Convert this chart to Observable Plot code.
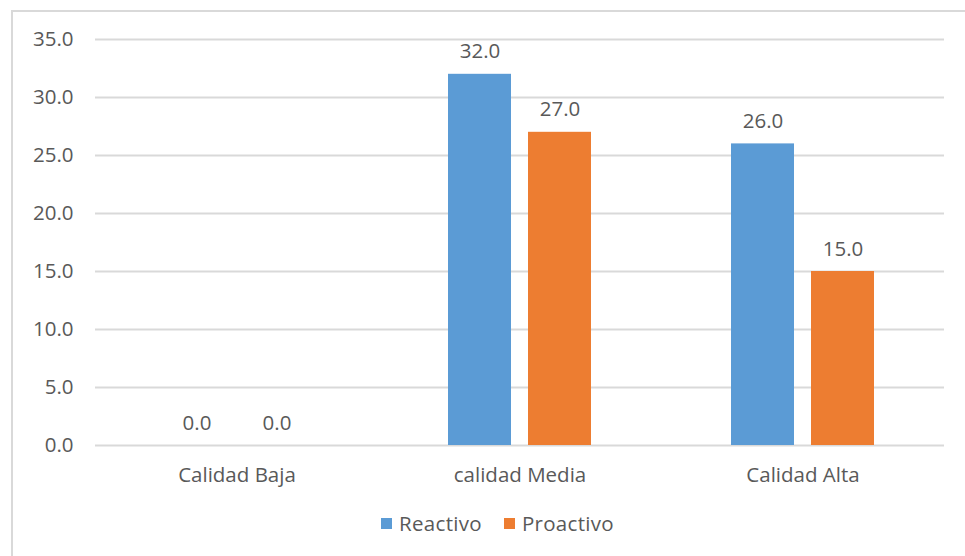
<!DOCTYPE html>
<html>
<head>
<meta charset="utf-8">
<script src="https://cdn.jsdelivr.net/npm/d3@7"></script>
<script src="https://cdn.jsdelivr.net/npm/@observablehq/plot@0.6"></script>
<style>
  html, body { margin: 0; padding: 0; background: #ffffff; }
  body { width: 965px; height: 556px; position: relative; overflow: hidden; font-family: "Open Sans", sans-serif; }
  #frame { position: absolute; left: 11px; top: 10px; width: 1000px; height: 600px; border-left: 2px solid #d9d9d9; border-top: 2px solid #d9d9d9; pointer-events: none; }
  #legend { display: flex; justify-content: center; align-items: center; padding-left: 30px; margin-top: 11px; font-size: 20.5px; color: #595959; line-height: 24px; letter-spacing: 0.3px; }
  .item { display: inline-flex; align-items: center; margin: 0 11px; }
  .sw { width: 11px; height: 11px; margin-right: 7px; display: inline-block; }
</style>
</head>
<body>
<div id="chart"></div>
<div id="legend"></div>
<div id="frame"></div>
<script>
const categories = ["Calidad Baja", "calidad Media", "Calidad Alta"];
const series = ["Reactivo", "Proactivo"];
const reactivo = [0, 32, 26];
const proactivo = [0, 27, 15];
const yTicks = [0, 5, 10, 15, 20, 25, 30, 35];
const colors = ["#5B9BD5", "#ED7D31"];

const data = categories.flatMap((c, i) => [
  {category: c, series: series[0], value: reactivo[i]},
  {category: c, series: series[1], value: proactivo[i]}
]);
const fmt = d3.format(".1f");

const plot = Plot.plot({
  width: 965,
  height: 500,
  marginLeft: 95,
  marginRight: 21,
  marginTop: 39,
  marginBottom: 55,
  style: {fontFamily: "Open Sans", fontSize: "20.5px", color: "#595959", background: "transparent", overflow: "visible"},
  facet: {data, x: "category", marginBottom: 55},
  fx: {domain: categories, paddingInner: 0, paddingOuter: 0, label: null, axis: "bottom", tickSize: 0, tickPadding: 22},
  x: {domain: series, paddingInner: 0.21, paddingOuter: 0.852, axis: null},
  y: {domain: [0, 35], ticks: yTicks, tickFormat: fmt, tickSize: 0, tickPadding: 22, label: null},
  color: {domain: series, range: colors},
  marks: [
    Plot.ruleY(yTicks, {stroke: "#d9d9d9", strokeWidth: 2}),
    Plot.barY(data, {x: "series", y: "value", fill: "series"}),
    Plot.text(data, {x: "series", y: "value", text: d => fmt(d.value), lineAnchor: "bottom", dy: -16, fill: "#595959", fontSize: 20.5})
  ]
});
document.getElementById("chart").appendChild(plot);

const legend = document.getElementById("legend");
series.forEach((s, i) => {
  const item = document.createElement("span");
  item.className = "item";
  const sw = document.createElement("span");
  sw.className = "sw";
  sw.style.background = colors[i];
  item.appendChild(sw);
  item.appendChild(document.createTextNode(s));
  legend.appendChild(item);
});
</script>
</body>
</html>
